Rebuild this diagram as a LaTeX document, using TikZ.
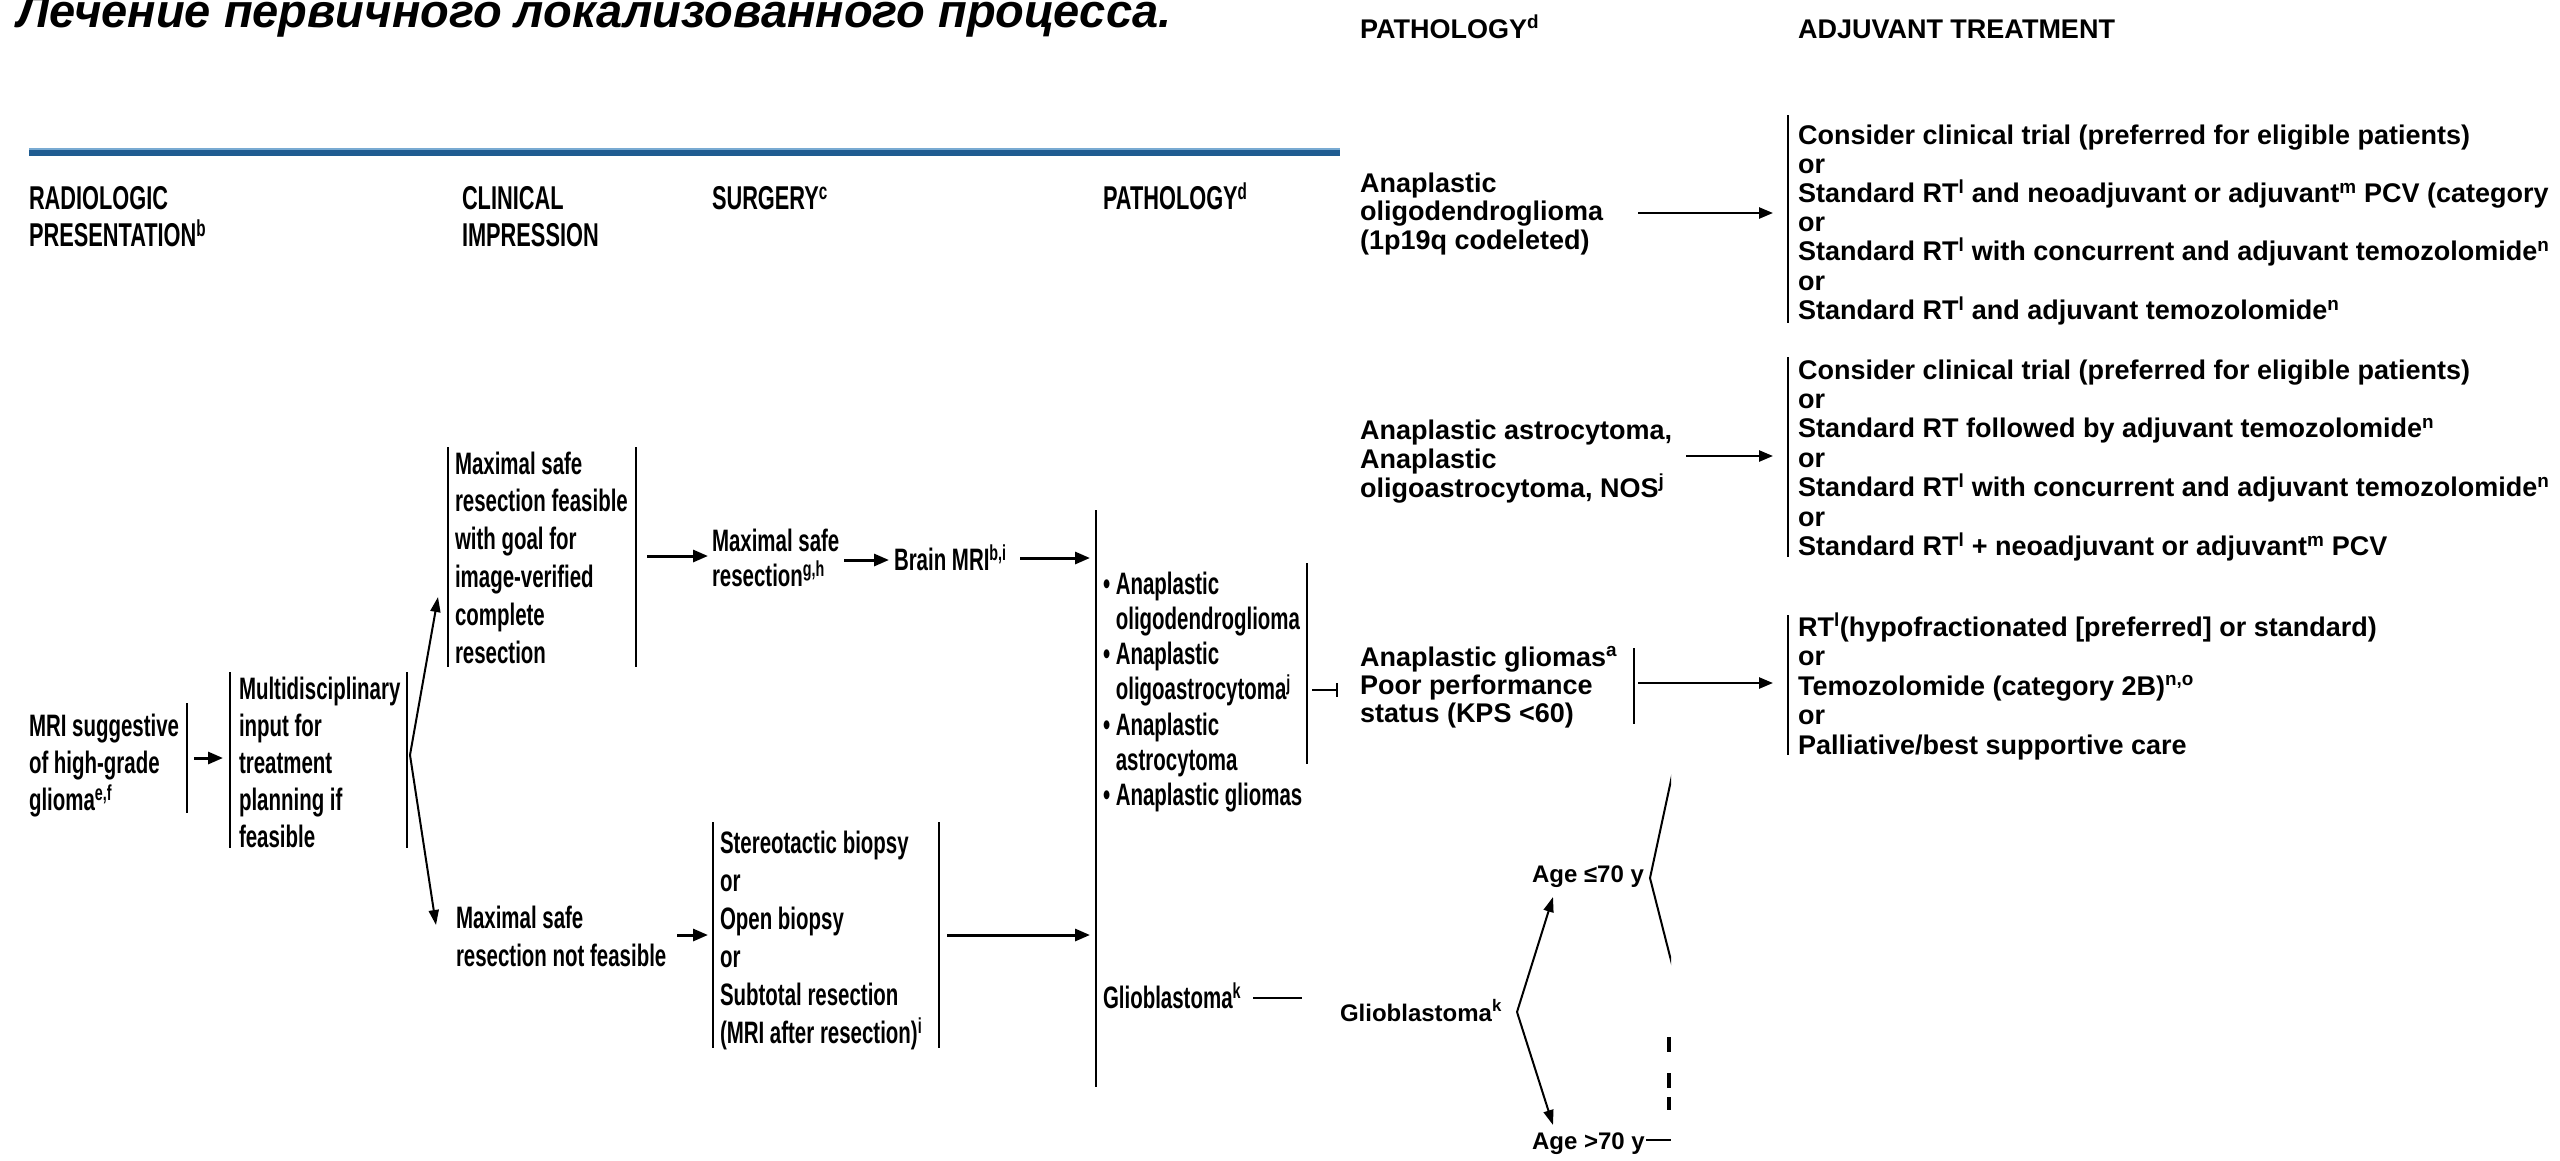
\documentclass[tikz,border=0pt]{standalone}
\usepackage{fontspec}
\setmainfont{Liberation Sans}
\newfontfamily\condsans[FakeStretch=0.66]{Liberation Sans}
\usetikzlibrary{arrows.meta}

% stacked lines; the baseline of the stack is that of its first line
\newcommand\mlines[1]{\vtop{\halign{##\hfil\cr#1\crcr}}}
\newcommand\sps[1]{\textsuperscript{#1}}

\definecolor{ruleblue}{RGB}{31,92,145}
\definecolor{ruleblueL}{RGB}{120,170,210}

\tikzset{
  every node/.style={inner sep=0pt, outer sep=0pt, anchor=base west},
  ltxt/.style={font=\condsans\bfseries\fontsize{31}{#1}\selectfont},
  ltxt/.default=37,
  lhead/.style={font=\condsans\bfseries\fontsize{33}{37}\selectfont},
  rtxt/.style={font=\bfseries\fontsize{27}{#1}\selectfont},
  rtxt/.default=29,
  rsmall/.style={font=\bfseries\fontsize{24}{28}\selectfont},
  lbar/.style={line width=2.5pt},
  rbar/.style={line width=2pt},
  larr/.style={line width=3pt, -{Triangle[length=15pt,width=12pt]}},
  lthin/.style={line width=2pt, -{Triangle[length=15pt,width=10pt]}},
  rarr/.style={line width=2.5pt, -{Triangle[length=14pt,width=11pt]}},
  rthin/.style={line width=2pt, -{Triangle[length=15pt,width=10pt]}},
  stub/.style={line width=2.5pt, -{Bar[width=14pt,line width=2.5pt]}},
}

\begin{document}
\begin{tikzpicture}[x=1pt,y=-1pt]
\useasboundingbox (0,0) rectangle (2560,1160);
\fill[white] (0,0) rectangle (2560,1160);

% ---------- title ----------
\node[font=\bfseries\itshape\fontsize{47}{47}\selectfont] (title) at (17,27)
  {Лечение первичного локализованного процесса.};

% ---------- blue rule ----------
\coordinate (ruleA) at (29,152);
\coordinate (ruleB) at (1340,152);
\draw[ruleblue, line width=7pt] (ruleA) -- (ruleB);
\draw[ruleblueL, line width=1.5pt] ([yshift=3pt]ruleA) -- ([yshift=3pt]ruleB);

% ---------- left chart: column heads ----------
\node[lhead] (hRad)  at (29,209)   {\mlines{RADIOLOGIC\cr PRESENTATION\sps{b}}};
\node[lhead] (hClin) at (462,209)  {\mlines{CLINICAL\cr IMPRESSION}};
\node[lhead] (hSurg) at (712,209)  {SURGERY\sps{c}};
\node[lhead] (hPath) at (1103,209) {PATHOLOGY\sps{d}};

% ---------- MRI ----------
\node[ltxt] (mri) at (29,736) {\mlines{MRI suggestive\cr of high-grade\cr glioma\sps{e,f}}};
\coordinate (mriT) at (187,703);
\coordinate (mriB) at (187,813);
\draw[lbar] (mriT) -- (mriB);
\coordinate (mriOut) at (194,758);
\coordinate (mdIn) at (223,758);
\draw[larr] (mriOut) -- (mdIn);

% ---------- multidisciplinary input ----------
\coordinate (mdLT) at (230,672);
\coordinate (mdLB) at (230,848);
\coordinate (mdRT) at (407,672);
\coordinate (mdRB) at (407,848);
\draw[lbar] (mdLT) -- (mdLB);
\draw[lbar] (mdRT) -- (mdRB);
\node[ltxt] (md) at (239,699) {\mlines{Multidisciplinary\cr input for\cr treatment\cr planning if\cr feasible}};
\coordinate (mdOut) at (410,755);
\coordinate (fsIn) at (438,597);
\coordinate (nfIn) at (436,925);
\draw[lthin] (mdOut) -- (fsIn);
\draw[lthin] (mdOut) -- (nfIn);

% ---------- resection feasible ----------
\coordinate (fsLT) at (448,447);
\coordinate (fsLB) at (448,667);
\coordinate (fsRT) at (636,447);
\coordinate (fsRB) at (636,667);
\draw[lbar] (fsLT) -- (fsLB);
\draw[lbar] (fsRT) -- (fsRB);
\node[ltxt=37.8] (fs) at (455,474) {\mlines{Maximal safe\cr resection feasible\cr with goal for\cr image-verified\cr complete\cr resection}};
\coordinate (fsOut) at (647,556);
\coordinate (msrIn) at (708,556);
\draw[larr] (fsOut) -- (msrIn);

\node[ltxt=35] (msr) at (712,551) {\mlines{Maximal safe\cr resection\sps{g,h}}};
\coordinate (msrOut) at (844,560);
\coordinate (bmriIn) at (889,560);
\draw[larr] (msrOut) -- (bmriIn);
\node[ltxt] (bmri) at (894,570) {Brain MRI\sps{b,i}};
\coordinate (bmriOut) at (1020,558);
\coordinate (pathIn1) at (1090,558);
\draw[larr] (bmriOut) -- (pathIn1);

% ---------- resection not feasible ----------
\node[ltxt=38] (nf) at (456,928) {\mlines{Maximal safe\cr resection not feasible}};
\coordinate (nfOut) at (677,935);
\coordinate (bxIn) at (708,935);
\draw[larr] (nfOut) -- (bxIn);
\coordinate (bxLT) at (713,822);
\coordinate (bxLB) at (713,1048);
\coordinate (bxRT) at (939,822);
\coordinate (bxRB) at (939,1048);
\draw[lbar] (bxLT) -- (bxLB);
\draw[lbar] (bxRT) -- (bxRB);
\node[ltxt=38] (bx) at (720,853) {\mlines{Stereotactic biopsy\cr or\cr Open biopsy\cr or\cr Subtotal resection\cr (MRI after resection)\sps{i}}};
\coordinate (bxOut) at (947,935);
\coordinate (pathIn2) at (1090,935);
\draw[larr] (bxOut) -- (pathIn2);

% ---------- pathology ----------
\coordinate (pathT) at (1096,510);
\coordinate (pathB) at (1096,1087);
\draw[lbar] (pathT) -- (pathB);
\node[ltxt=35.3] (types) at (1103,594) {\mlines{\textbullet\ Anaplastic\cr
  \phantom{\textbullet\ }oligodendroglioma\cr
  \textbullet\ Anaplastic\cr
  \phantom{\textbullet\ }oligoastrocytoma\sps{j}\cr
  \textbullet\ Anaplastic\cr
  \phantom{\textbullet\ }astrocytoma\cr
  \textbullet\ Anaplastic gliomas}};
\coordinate (typesT) at (1307,563);
\coordinate (typesB) at (1307,764);
\draw[lbar] (typesT) -- (typesB);
\coordinate (typesOut) at (1312,690);
\coordinate (typesEnd) at (1338,690);
\draw[stub] (typesOut) -- (typesEnd);

\node[ltxt] (gbL) at (1103,1008) {Glioblastoma\sps{k}};
\coordinate (gbLOut) at (1253,998);
\coordinate (gbLEnd) at (1302,998);
\draw[lbar] (gbLOut) -- (gbLEnd);

% ---------- right chart: column heads ----------
\node[rtxt] (hPath2) at (1360,38) {PATHOLOGY\sps{d}};
\node[rtxt] (hAdj)   at (1798,38) {ADJUVANT TREATMENT};

% ---------- anaplastic oligodendroglioma ----------
\node[rtxt=28.5] (p1) at (1360,192) {\mlines{Anaplastic\cr oligodendroglioma\cr (1p19q codeleted)}};
\coordinate (p1Out) at (1638,213);
\coordinate (t1In) at (1773,213);
\draw[rarr] (p1Out) -- (t1In);
\coordinate (t1T) at (1788,115);
\coordinate (t1B) at (1788,323);
\draw[rbar] (t1T) -- (t1B);
\node[rtxt=29.2] (t1) at (1798,144) {\mlines{Consider clinical trial (preferred for eligible patients)\cr
  or\cr
  Standard RT\sps{l} and neoadjuvant or adjuvant\sps{m} PCV (category\cr
  or\cr
  Standard RT\sps{l} with concurrent and adjuvant temozolomide\sps{n}\cr
  or\cr
  Standard RT\sps{l} and adjuvant temozolomide\sps{n}}};

% ---------- anaplastic astrocytoma ----------
\node[rtxt] (p2) at (1360,439) {\mlines{Anaplastic astrocytoma,\cr Anaplastic\cr oligoastrocytoma, NOS\sps{j}}};
\coordinate (p2Out) at (1686,456);
\coordinate (t2In) at (1773,456);
\draw[rarr] (p2Out) -- (t2In);
\coordinate (t2T) at (1788,357);
\coordinate (t2B) at (1788,557);
\draw[rbar] (t2T) -- (t2B);
\node[rtxt=29.4] (t2) at (1798,379) {\mlines{Consider clinical trial (preferred for eligible patients)\cr
  or\cr
  Standard RT followed by adjuvant temozolomide\sps{n}\cr
  or\cr
  Standard RT\sps{l} with concurrent and adjuvant temozolomide\sps{n}\cr
  or\cr
  Standard RT\sps{l} + neoadjuvant or adjuvant\sps{m} PCV}};

% ---------- poor performance status ----------
\node[rtxt=28] (p3) at (1360,666) {\mlines{Anaplastic gliomas\sps{a}\cr Poor performance\cr status (KPS <60)}};
\coordinate (p3T) at (1634,648);
\coordinate (p3B) at (1634,724);
\draw[rbar] (p3T) -- (p3B);
\coordinate (p3Out) at (1638,683);
\coordinate (t3In) at (1773,683);
\draw[rarr] (p3Out) -- (t3In);
\coordinate (t3T) at (1788,615);
\coordinate (t3B) at (1788,755);
\draw[rbar] (t3T) -- (t3B);
\node[rtxt=29.5] (t3) at (1798,636) {\mlines{RT\sps{l}(hypofractionated [preferred] or standard)\cr
  or\cr
  Temozolomide (category 2B)\sps{n,o}\cr
  or\cr
  Palliative/best supportive care}};

% ---------- glioblastoma by age ----------
\node[rsmall] (gbR) at (1340,1021) {Glioblastoma\sps{k}};
\coordinate (gbV) at (1517,1012);
\coordinate (ageYIn) at (1553,897);
\coordinate (ageOIn) at (1553,1125);
\draw[rthin] (gbV) -- (ageYIn);
\draw[rthin] (gbV) -- (ageOIn);
\node[rsmall] (ageY) at (1532,882)  {Age ≤70 y};
\node[rsmall] (ageO) at (1532,1149) {Age >70 y};
\coordinate (ageOOut) at (1646,1140);
\coordinate (ageOEnd) at (1671,1140);
\draw[rbar] (ageOOut) -- (ageOEnd);

% bracket after "Age <=70 y", cut off at the panel edge
\coordinate (brTop) at (1676,757);
\coordinate (brMid) at (1650,878);
\coordinate (brBot) at (1676,980);
\begin{scope}
  \clip (1600,700) rectangle (1671,1000);
  \draw[rbar] (brTop) -- (brMid) -- (brBot);
\end{scope}
% letter fragments at the cut edge
\fill (1667,1037) rectangle (1671,1052);
\fill (1667,1073) rectangle (1671,1088);
\fill (1667,1097) rectangle (1671,1110);
\end{tikzpicture}
\end{document}
